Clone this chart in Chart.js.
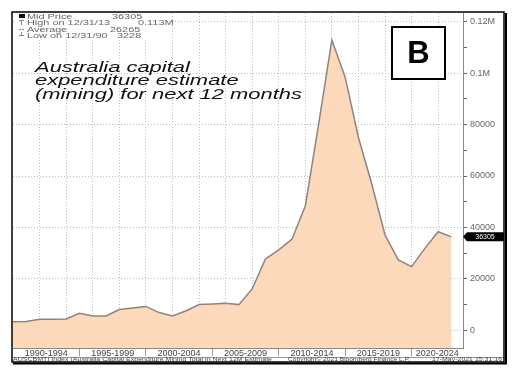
<!DOCTYPE html>
<html>
<head>
<meta charset="utf-8">
<script src="https://cdn.jsdelivr.net/npm/chart.js@4"></script>
<style>
  html, body { margin: 0; padding: 0; background: #fff; }
  #wrap { position: relative; width: 517px; height: 374px; }
</style>
</head>
<body>
<div id="wrap"><canvas id="capex" width="517" height="374"></canvas></div>
<script>
// annual points, one per year
const years = [1990, 1991, 1992, 1993, 1994, 1995, 1996, 1997, 1998, 1999,
  2000, 2001, 2002, 2003, 2004, 2005, 2006, 2007, 2008, 2009,
  2010, 2011, 2012, 2013, 2014, 2015, 2016, 2017, 2018, 2019,
  2020, 2021, 2022, 2023];
const capex = [3228, 3300, 4200, 4200, 4300, 6500, 5450, 5500, 8000, 8600,
  9200, 6800, 5450, 7400, 9900, 10100, 10400, 9900, 16000, 27700,
  31200, 35400, 48300, 80000, 113000, 98500, 75000, 57000, 37000, 27300,
  24700, 31800, 38300, 36305];

const periodStarts = [1990, 1995, 2000, 2005, 2010, 2015, 2020];
const periodLabels = ['1990-1994', '1995-1999', '2000-2004', '2005-2009', '2010-2014', '2015-2019', '2020-2024'];

const legendNames = ['Mid Price', 'High on 12/31/13', 'Average', 'Low on 12/31/90'];
const legendValues = ['36305', '0.113M', '26265', '3228'];

const titleLines = ['Australia capital', 'expenditure estimate', '(mining) for next 12 months'];
const footer = ['AUSCBMTI Index (Australia Capital Expenditure Mining Total in Next 12M Estimate',
  'Copyright\u00a9 2021 Bloomberg Finance L.P.', '17-May-2021 15:31:16'];

const X_MIN = 1990, X_MAX = 2023.87;
const FONT = '"Liberation Sans", Arial, sans-serif';
const GRID = '#bdbdbd';

// x tick labels sit in the middle of each (visible part of a) 5-year period
const labelAt = new Map();
periodStarts.forEach((s, i) => {
  const a = Math.max(s, X_MIN), b = Math.min(s + 5, X_MAX);
  labelAt.set((a + b) / 2, periodLabels[i]);
});
const isSeparator = (v) => periodStarts.includes(v);
const isGridYear = (v) => Number.isInteger(v) && v % 2 === 0 && !isSeparator(v);

function stretchText(ctx, text, x, y, sx) {
  ctx.save();
  ctx.translate(x, y);
  ctx.scale(sx, 1);
  ctx.fillText(text, 0, 0);
  ctx.restore();
}

const decor = {
  id: 'decor',
  beforeDraw(chart) {
    const c = chart.ctx;
    c.save();
    c.fillStyle = '#fff';
    c.fillRect(0, 0, chart.width, chart.height);
    c.restore();
  },
  afterDraw(chart) {
    const c = chart.ctx;
    const y = chart.scales.y;
    c.save();

    // title, stretched wide like the original
    c.font = 'italic 14px ' + FONT;
    c.fillStyle = '#111';
    c.textBaseline = 'alphabetic';
    const sx = 267 / c.measureText(titleLines[2]).width;
    titleLines.forEach((t, i) => stretchText(c, t, 35, 72 + i * 13.4, sx));

    // legend box top-left
    c.fillStyle = '#fff';
    c.fillRect(16, 13, 150, 26);
    c.font = '7px ' + FONT;
    const lsx = 83 / c.measureText(legendNames[1]).width;
    const valX = [112, 138, 110, 117];
    legendNames.forEach((n, i) => {
      const by = 18.8 + i * 6.4;
      c.fillStyle = '#666';
      stretchText(c, n, 27, by, lsx);
      stretchText(c, legendValues[i], valX[i], by, lsx);
    });
    c.fillStyle = '#111';
    c.fillRect(19, 14, 6, 4);
    c.strokeStyle = '#888';
    c.lineWidth = 1;
    c.beginPath();
    c.moveTo(21.5, 20); c.lineTo(21.5, 25); c.moveTo(19, 20.5); c.lineTo(24, 20.5);
    c.moveTo(19, 29.5); c.lineTo(21, 29.5); c.moveTo(22, 29.5); c.lineTo(24, 29.5);
    c.moveTo(21.5, 32); c.lineTo(21.5, 36); c.moveTo(19, 35.5); c.lineTo(24, 35.5);
    c.stroke();

    // "B" panel marker
    c.fillStyle = '#fff';
    c.fillRect(392, 27, 53, 52);
    c.strokeStyle = '#000';
    c.lineWidth = 2;
    c.strokeRect(392, 27, 53, 52);
    c.fillStyle = '#000';
    c.font = 'bold 31px ' + FONT;
    c.textAlign = 'center';
    c.textBaseline = 'middle';
    c.fillText('B', 418.5, 54);

    // last value tag on the right axis
    const ty = y.getPixelForValue(capex[capex.length - 1]);
    c.fillStyle = '#000';
    c.beginPath();
    c.moveTo(463, ty);
    c.lineTo(467, ty - 4.5);
    c.lineTo(504, ty - 4.5);
    c.lineTo(504, ty + 4.5);
    c.lineTo(467, ty + 4.5);
    c.closePath();
    c.fill();
    c.fillStyle = '#fff';
    c.font = '7px ' + FONT;
    c.fillText(legendValues[0], 485, ty + 0.5);

    // line under the x labels and footer text
    c.strokeStyle = '#999';
    c.lineWidth = 1;
    c.beginPath();
    c.moveTo(13, 357.5);
    c.lineTo(504, 357.5);
    c.stroke();
    c.fillStyle = '#444';
    c.textAlign = 'left';
    c.font = '5px ' + FONT;
    const fx = [13, 288, 432], fw = [259, 122, 70];
    footer.forEach((t, i) => stretchText(c, t, fx[i], 360, fw[i] / c.measureText(t).width));

    // outer frame with heavier right/bottom edge
    c.strokeStyle = '#000';
    c.lineWidth = 1.5;
    c.strokeRect(12, 12, 492, 350);
    c.lineWidth = 2;
    c.beginPath();
    c.moveTo(13, 363.5); c.lineTo(506, 363.5); c.lineTo(506, 13);
    c.stroke();
    c.restore();
  }
};

const ctx = document.getElementById('capex').getContext('2d');
new Chart(ctx, {
  type: 'line',
  data: {
    datasets: [{
      label: 'Mid Price',
      data: years.map((yr, i) => ({ x: yr, y: capex[i] })),
      borderColor: '#8c8484',
      borderWidth: 1.5,
      backgroundColor: 'rgb(251, 217, 186)',
      fill: 'start',
      tension: 0,
      pointRadius: 0
    }]
  },
  options: {
    responsive: false,
    animation: false,
    devicePixelRatio: 1,
    layout: { padding: { left: 13, top: 13, right: 13, bottom: 17 } },
    plugins: { legend: { display: false }, tooltip: { enabled: false } },
    scales: {
      x: {
        type: 'linear',
        position: 'bottom',
        min: X_MIN,
        max: X_MAX,
        afterBuildTicks: (s) => {
          const t = periodStarts.filter(v => v > X_MIN).map(v => ({ value: v }));
          labelAt.forEach((_, v) => t.push({ value: v }));
          for (let v = 1992; v < X_MAX; v += 2) {
            if (!isSeparator(v)) t.push({ value: v });
          }
          s.ticks = t.sort((a, b) => a.value - b.value);
        },
        afterFit: (s) => { s.height = 9; },
        ticks: {
          autoSkip: false,
          maxRotation: 0,
          padding: -8,
          color: '#444',
          font: { size: 9, family: FONT },
          callback: (v) => labelAt.get(v) || ''
        },
        grid: {
          drawOnChartArea: true,
          color: (c) => (c.tick && (isGridYear(c.tick.value) || (isSeparator(c.tick.value) && c.tick.value % 2 === 0))) ? GRID : 'rgba(0,0,0,0)',
          tickLength: 8,
          tickColor: (c) => (c.tick && isSeparator(c.tick.value)) ? '#999' : 'rgba(0,0,0,0)'
        },
        border: { display: true, color: '#888', dash: [1, 2] }
      },
      y: {
        position: 'right',
        min: -7000,
        max: 123500,
        afterBuildTicks: (s) => {
          const t = [];
          for (let v = 0; v <= 120000; v += 10000) t.push({ value: v });
          s.ticks = t;
        },
        afterFit: (s) => { s.width = 41; },
        ticks: {
          autoSkip: false,
          padding: 3,
          color: '#666',
          font: { size: 9, family: FONT },
          callback: (v) => v % 20000 !== 0 ? '' : (v >= 100000 ? (v / 1e6) + 'M' : String(v))
        },
        grid: {
          color: (c) => (c.tick && c.tick.value % 20000 === 0) ? GRID : 'rgba(0,0,0,0)',
          tickColor: '#666',
          tickLength: 4
        },
        border: { display: true, color: '#888', dash: [1, 2] }
      }
    }
  },
  plugins: [decor]
});
</script>
</body>
</html>
